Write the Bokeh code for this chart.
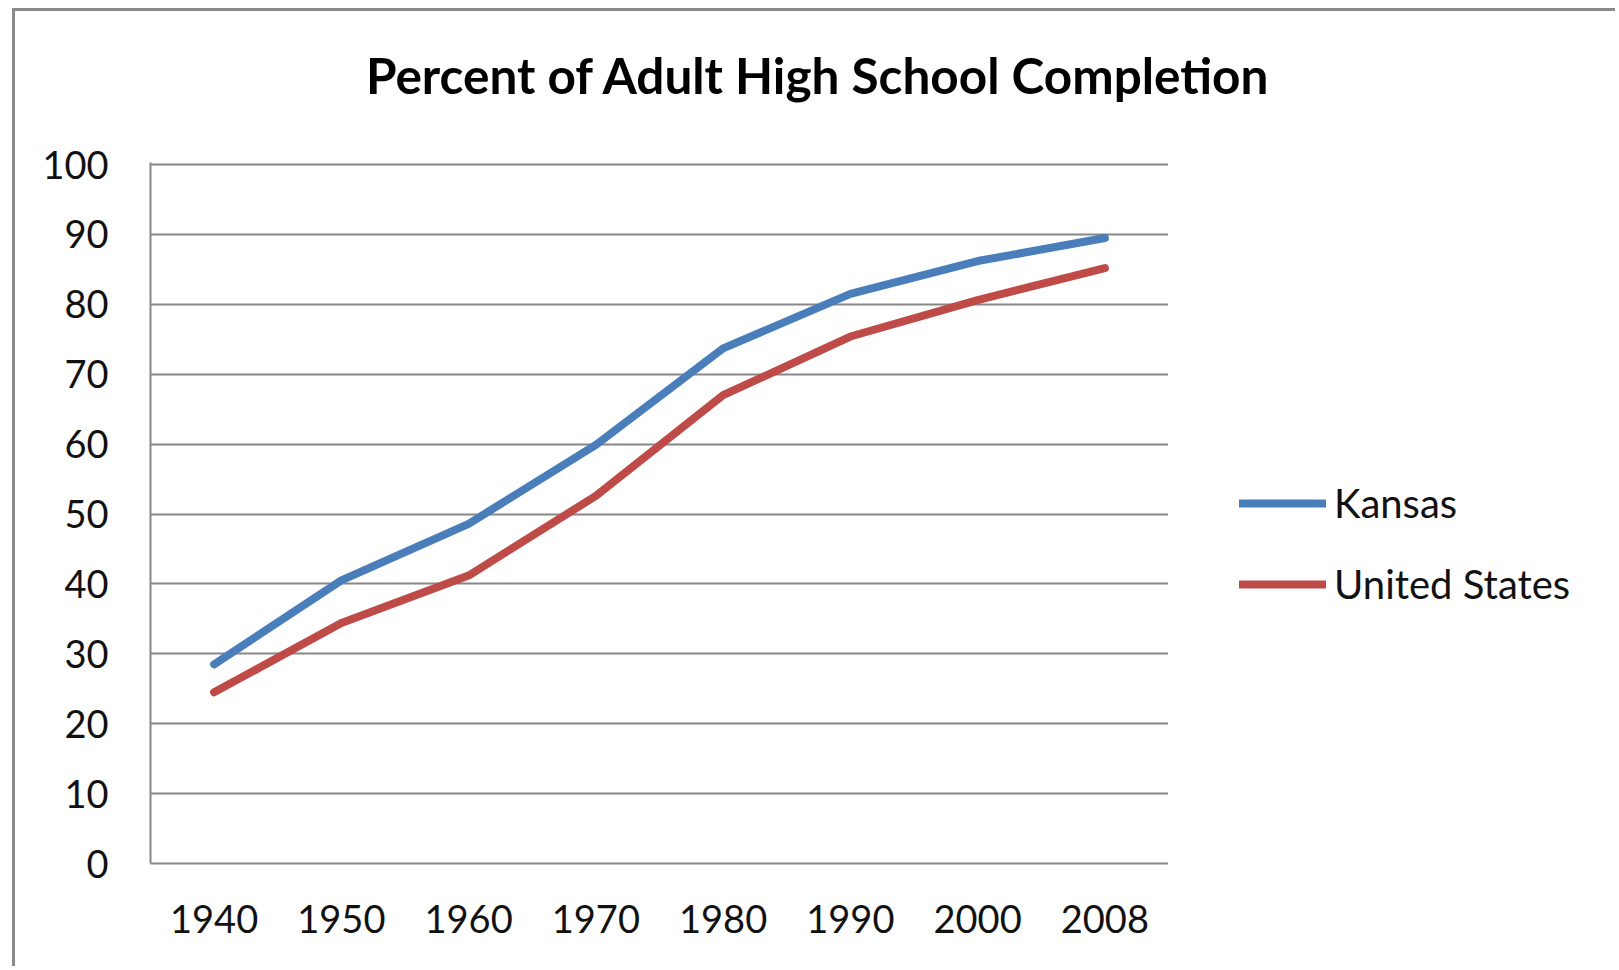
from bokeh.plotting import figure
from bokeh.models import FactorRange, Range1d, FixedTicker, Legend, LegendItem
from bokeh.layouts import row, column
from bokeh.embed import file_html
from bokeh.resources import INLINE

# Data
years = ["1940", "1950", "1960", "1970", "1980", "1990", "2000", "2008"]
kansas = [28.5, 40.5, 48.6, 59.9, 73.7, 81.5, 86.2, 89.5]
united_states = [24.5, 34.4, 41.2, 52.6, 67.0, 75.4, 80.6, 85.2]
series_names = ["Kansas", "United States"]
y_ticks = [0, 10, 20, 30, 40, 50, 60, 70, 80, 90, 100]
title_text = "Percent of Adult High School Completion"

BLUE = "#4A7EBB"
RED = "#BE4B48"
GRID = "#878787"
FONT = "Lato"

# ---- title strip ----
pt = figure(
    width=1600, height=100,
    x_range=Range1d(0, 1), y_range=Range1d(0, 1),
    x_axis_type=None, y_axis_type=None,
    output_backend="svg", toolbar_location=None,
    title=title_text,
    min_border_left=6, min_border_right=0,
    min_border_top=95, min_border_bottom=0,
    background_fill_color="white", border_fill_color="white",
)
pt.outline_line_color = None
pt.title.align = "center"
pt.title.vertical_align = "top"
pt.title.standoff = 0
pt.title.text_font = FONT
pt.title.text_font_style = "bold"
pt.title.text_font_size = "49.5px"
pt.title.text_color = "#000000"

# ---- main chart ----
p = figure(
    width=1153, height=855,
    x_range=FactorRange(factors=years),
    y_range=Range1d(0, 100.3),
    output_backend="svg", toolbar_location=None,
    min_border_left=135, min_border_right=0,
    min_border_top=51, min_border_bottom=103,
    background_fill_color="white", border_fill_color="white",
)
p.outline_line_color = None

p.xgrid.grid_line_color = None
p.ygrid.ticker = FixedTicker(ticks=y_ticks)
p.ygrid.grid_line_color = GRID
p.ygrid.grid_line_width = 2

p.yaxis.ticker = FixedTicker(ticks=y_ticks)
for ax in (p.xaxis[0], p.yaxis[0]):
    ax.axis_line_color = GRID
    ax.axis_line_width = 2
    ax.major_tick_line_color = None
    ax.minor_tick_line_color = None
    ax.major_tick_out = 0
    ax.major_tick_in = 0
    ax.major_label_text_font = FONT
    ax.major_label_text_font_size = "38px"
    ax.major_label_text_color = "#111111"
p.yaxis.major_label_standoff = 42
p.xaxis.major_label_standoff = 41

p.line(years, kansas, line_width=8, line_color=BLUE,
       line_join="round", line_cap="round")
p.line(years, united_states, line_width=8, line_color=RED,
       line_join="round", line_cap="round")

# ---- legend panel (its series lie outside this panel's ranges, so only
#      the legend entries are visible) ----
pl = figure(
    width=447, height=855,
    x_range=Range1d(-20, -10), y_range=Range1d(-20, -10),
    x_axis_type=None, y_axis_type=None,
    output_backend="svg", toolbar_location=None,
    min_border=0,
    background_fill_color="white", border_fill_color="white",
)
pl.outline_line_color = None
idx = list(range(len(years)))
lk = pl.line(idx, kansas, line_width=8, line_color=BLUE, line_cap="round")
lu = pl.line(idx, united_states, line_width=8, line_color=RED, line_cap="round")

legend = Legend(
    items=[LegendItem(label=series_names[0], renderers=[lk]),
           LegendItem(label=series_names[1], renderers=[lu])],
    location=(71, 255),
    glyph_width=87, glyph_height=46, label_height=46,
    spacing=33, padding=0, margin=0, label_standoff=8,
    border_line_color=None, background_fill_alpha=0,
    label_text_font=FONT, label_text_font_size="40px",
    label_text_color="#111111",
)
pl.add_layout(legend, "center")

layout = column(
    pt, row(p, pl, spacing=0),
    spacing=0,
    styles={"margin-left": "12px", "margin-top": "8px",
            "border-left": "3px solid #8a8a8a",
            "border-top": "3px solid #8a8a8a"},
)

open("out.html", "w").write(file_html(layout, INLINE))
